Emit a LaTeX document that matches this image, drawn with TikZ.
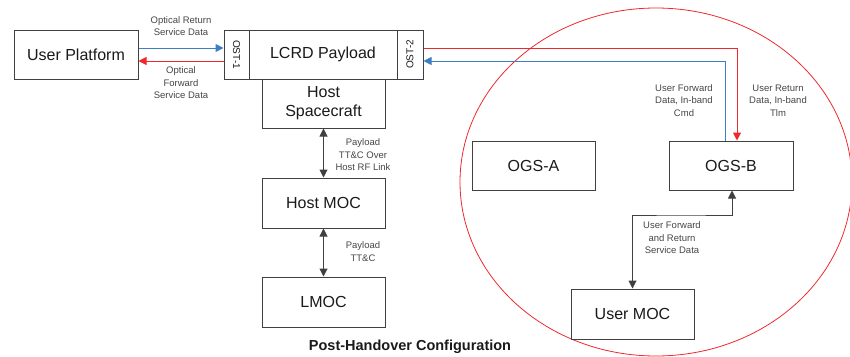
\documentclass[tikz,border=0pt]{standalone}
\usepackage{fontspec}
\setmainfont{Liberation Sans}
\usetikzlibrary{arrows.meta}
\definecolor{boxline}{HTML}{404040}
\definecolor{bluec}{HTML}{3D7FC0}
\definecolor{redc}{HTML}{F0282D}
\definecolor{txt}{HTML}{1A1A1A}
\definecolor{small}{HTML}{454545}
\tikzset{
  blk/.style={draw=boxline, line width=1pt, fill=white, inner sep=0pt, text=txt,
    font=\fontsize{16}{19}\selectfont, align=center},
  ost/.style={blk, font=\fontsize{10}{12}\selectfont},
  lbl/.style={text=small, font=\fontsize{9.5}{12.5}\selectfont, align=center, inner sep=0pt},
  tip/.style={-{Triangle[length=8pt,width=8pt]}},
  dtip/.style={{Triangle[length=8pt,width=8pt]}-{Triangle[length=8pt,width=8pt]}},
  bl/.style={draw=bluec, line width=1pt, tip},
  rl/.style={draw=redc, line width=1pt, tip},
  kl/.style={draw=boxline, line width=1pt, dtip},
}
\begin{document}
\begin{tikzpicture}[x=1pt,y=-1pt]
\useasboundingbox (0,0) rectangle (850,356);
\draw[redc, line width=0.8pt] (656,182) ellipse [x radius=196, y radius=174];

\node[blk, minimum width=124pt, minimum height=49pt] (up) at (76,54.5) {User Platform};
\node[ost, minimum width=25pt, minimum height=49pt] (ost1) at (236.5,54.5) {\rotatebox{-90}{OST-1}};
\node[blk, minimum width=148pt, minimum height=49pt] (lcrd) at (323,54.5) {LCRD Payload};
\node[ost, minimum width=26pt, minimum height=49pt] (ost2) at (410,54.5) {\rotatebox{90}{OST-2}};
\node[blk, minimum width=123pt, minimum height=49pt] (hsc) at (323.5,103.5) {Host\\Spacecraft};
\node[blk, minimum width=123pt, minimum height=50pt] (hmoc) at (323.5,203) {Host MOC};
\node[blk, minimum width=123pt, minimum height=50pt] (lmoc) at (323.5,302) {LMOC};
\node[blk, minimum width=123pt, minimum height=49pt] (ogsa) at (533.5,165.5) {OGS-A};
\node[blk, minimum width=124pt, minimum height=49pt] (ogsb) at (731,165.5) {OGS-B};
\node[blk, minimum width=123pt, minimum height=50pt] (umoc) at (632.5,314) {User MOC};

\coordinate (rcorner) at (737,48);
\coordinate (bcorner) at (725,61);
\coordinate (bend) at (680,215);

\draw[bl] ([yshift=6.5pt]up.east) -- ([yshift=6.5pt]ost1.west);
\draw[rl] ([yshift=-6.5pt]ost1.west) -- ([yshift=-6.5pt]up.east);
\draw[rl] ([yshift=6.5pt]ost2.east) -- (rcorner) -- ([xshift=6pt]ogsb.north);
\draw[bl] ([xshift=-6pt]ogsb.north) -- (bcorner) -- ([yshift=-6.5pt]ost2.east);
\draw[kl] (hsc.south) -- (hmoc.north);
\draw[kl] (hmoc.south) -- (lmoc.north);
\draw[kl] (umoc.north) |- (bend) -| ([xshift=1pt]ogsb.south);

\node[lbl] (l1) at (181,26) {Optical Return\\Service Data};
\node[lbl] (l2) at (181,83) {Optical\\Forward\\Service Data};
\node[lbl] (l3) at (684,100.5) {User Forward\\Data, In-band\\Cmd};
\node[lbl] (l4) at (778,100.5) {User Return\\Data, In-band\\Tlm};
\node[lbl] (l5) at (363,155) {Payload\\TT\&C Over\\Host RF Link};
\node[lbl] (l6) at (363,251.5) {Payload\\TT\&C};
\node[lbl] (l7) at (672,238) {User Forward\\and Return\\Service Data};
\node[text=txt, font=\fontsize{14.5}{16}\selectfont\bfseries, inner sep=0pt] (title) at (410,347) {Post-Handover Configuration};
\end{tikzpicture}
\end{document}
